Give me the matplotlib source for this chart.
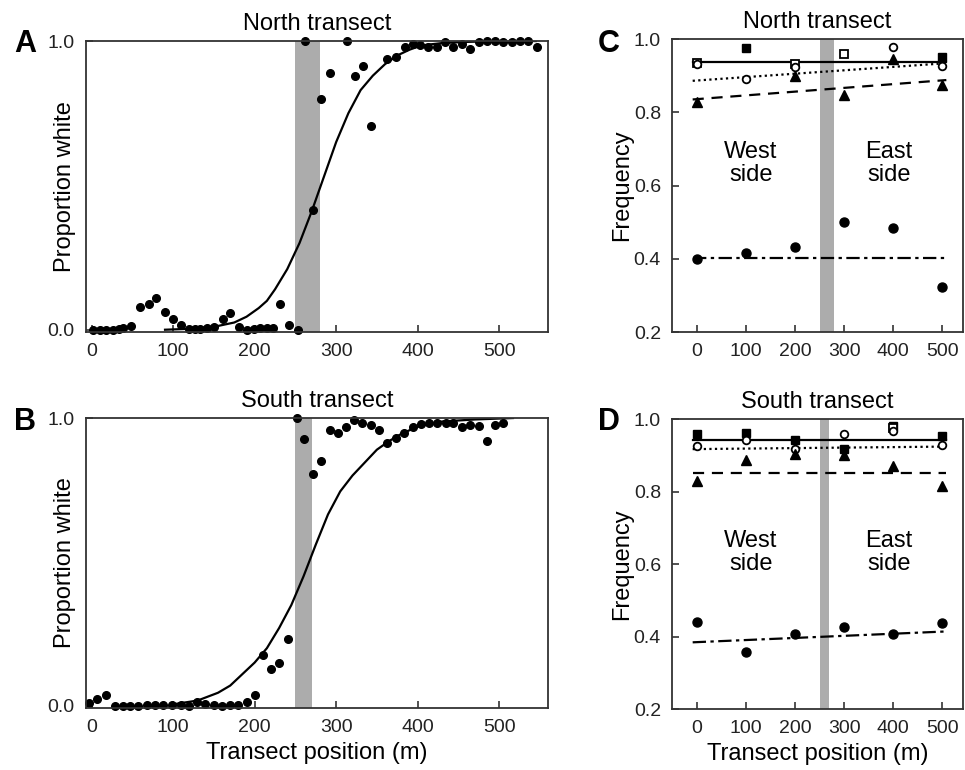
import matplotlib
matplotlib.use("Agg")
import matplotlib.pyplot as plt
import numpy as np

nan = np.nan

# panel A - north transect, proportion white morph
north_x = [2, 10, 18, 26, 33, 39, 48, 59, 70, 79, 90, 100, 109, 119, 127, 133, 141, 150,
           161, 170, 181, 190, 199, 207, 215, 222, 231, 242, 253, 262, 271, 282, 293,
           313, 323, 333, 343, 363, 373, 384, 394, 403, 413, 424, 434, 444, 454, 464,
           475, 485, 495, 505, 516, 526, 536, 546]
north_prop = [0.0, 0.0, 0.0, 0.0, 0.002, 0.006, 0.014, 0.08, 0.09, 0.11, 0.063, 0.037, 0.017,
              0.004, 0.002, 0.002, 0.005, 0.01, 0.037, 0.058, 0.01, 0.0, 0.003, 0.005, 0.005,
              0.005, 0.09, 0.017, 0.0, 1.0, 0.415, 0.80, 0.89, 1.0, 0.88, 0.915, 0.705,
              0.937, 0.946, 0.98, 0.99, 0.988, 0.98, 0.98, 0.995, 0.978, 0.99, 0.973,
              0.995, 1.0, 1.0, 0.998, 0.998, 1.0, 1.0, 0.98]
north_fit_x = [90, 120, 150, 175, 190, 205, 215, 225, 240, 255, 270, 285, 300, 315, 330,
               345, 360, 375, 390, 405, 430, 460, 500, 545]
north_fit_y = [0.0, 0.003, 0.01, 0.025, 0.045, 0.075, 0.10, 0.14, 0.21, 0.30, 0.41, 0.53,
               0.65, 0.75, 0.83, 0.88, 0.92, 0.95, 0.97, 0.985, 0.993, 0.997, 1.0, 1.0]

# panel B - south transect
south_x = [-3, 7, 18, 28, 38, 47, 57, 68, 78, 88, 98, 109, 119, 129, 139, 150, 160, 170,
           180, 190, 200, 210, 220, 230, 241, 252, 261, 271, 282, 292, 302, 312, 322, 332,
           343, 353, 363, 373, 383, 394, 404, 414, 424, 435, 444, 454, 464, 475, 485, 495, 505]
south_prop = [0.01, 0.022, 0.038, 0.0, 0.0, 0.0, 0.0, 0.004, 0.001, 0.001, 0.001, 0.001, 0.0,
              0.013, 0.007, 0.001, 0.0, 0.003, 0.004, 0.013, 0.038, 0.176, 0.126, 0.148,
              0.232, 1.0, 0.926, 0.805, 0.849, 0.96, 0.947, 0.97, 0.993, 0.984, 0.976, 0.958,
              0.912, 0.93, 0.947, 0.968, 0.979, 0.984, 0.984, 0.984, 0.981, 0.968, 0.976,
              0.972, 0.92, 0.976, 0.984]
south_fit_x = [100, 130, 155, 170, 185, 200, 215, 230, 245, 260, 275, 290, 305, 320, 335,
               350, 365, 380, 400, 430, 470, 517]
south_fit_y = [0.005, 0.018, 0.045, 0.07, 0.11, 0.15, 0.2, 0.27, 0.35, 0.45, 0.56, 0.665,
               0.745, 0.8, 0.845, 0.89, 0.92, 0.945, 0.97, 0.988, 0.995, 1.0]

# panels C, D - frequencies at sampling sites
sites = [0, 100, 200, 300, 400, 500]
line_x = [-8, 508]

north_sq_filled = [nan, 0.975, nan, nan, nan, 0.952]
north_sq_open = [0.935, nan, 0.933, 0.959, nan, nan]
north_circ_open = [0.932, 0.89, 0.925, nan, 0.977, 0.926]
north_tri = [0.829, nan, 0.90, 0.847, 0.946, 0.874]
north_circ = [0.40, 0.416, 0.433, 0.50, 0.483, 0.323]
north_solid = [0.938, 0.938]
north_dotted = [0.886, 0.934]
north_dashed = [0.835, 0.888]
north_dashdot = [0.402, 0.402]

south_sq_filled = [0.959, 0.961, 0.941, 0.917, 0.98, 0.954]
south_sq_open = [nan, nan, nan, nan, 0.975, nan]
south_circ_open = [0.926, 0.943, 0.917, 0.959, 0.966, 0.928]
south_tri = [0.828, 0.886, 0.904, 0.90, 0.871, 0.816]
south_circ = [0.439, 0.356, 0.408, 0.426, 0.408, 0.436]
south_solid = [0.941, 0.941]
south_dotted = [0.917, 0.924]
south_dashed = [0.851, 0.851]
south_dashdot = [0.384, 0.414]

plt.rcParams['font.family'] = ['Liberation Sans', 'DejaVu Sans']
plt.rcParams['font.size'] = 14
plt.rcParams['axes.linewidth'] = 1.3
plt.rcParams['axes.edgecolor'] = '#333333'

BAND = '#acacac'


def style_axes(ax):
    ax.tick_params(direction='in', length=5, width=1.2, labelsize=14, pad=8, colors='#333333',
                   labelcolor='#222222')
    for s in ax.spines.values():
        s.set_zorder(5)


def cline_panel(ax, xs, ys, fx, fy, band, title):
    ax.axvspan(band[0], band[1], color=BAND, lw=0, zorder=0)
    ax.plot(fx, fy, color='black', lw=1.6, zorder=2)
    ax.plot(xs, ys, 'o', color='black', ms=5.5, clip_on=False, zorder=3)
    ax.set_xlim(-7, 560)
    ax.set_ylim(-0.008, 1.0)
    ax.set_xticks([0, 100, 200, 300, 400, 500])
    ax.set_yticks([0.0, 1.0])
    ax.set_yticklabels(['0.0', '1.0'])
    ax.set_title(title, fontsize=17, pad=8)
    ax.set_ylabel('Proportion white', fontsize=17)
    ax.yaxis.set_label_coords(-0.022, 0.5)
    style_axes(ax)


def freq_panel(ax, band, title, sq_f, sq_o, ci_o, tri, ci, solid, dotted, dashed, dashdot):
    ax.axvspan(band[0], band[1], color=BAND, lw=0, zorder=0)
    ax.plot(line_x, solid, '-', color='black', lw=1.6, zorder=2)
    ax.plot(line_x, dotted, color='black', lw=1.6, ls=(0, (1, 1.5)), zorder=2)
    ax.plot(line_x, dashed, color='black', lw=1.6, ls=(0, (5, 3.5)), zorder=2)
    ax.plot(line_x, dashdot, color='black', lw=1.6, ls=(0, (6, 2, 1.5, 2)), zorder=2)
    ax.plot(sites, sq_f, 's', color='black', ms=5.5, zorder=3)
    ax.plot(sites, sq_o, 's', mfc='white', mec='black', mew=1.3, ms=5.5, zorder=3)
    ax.plot(sites, ci_o, 'o', mfc='white', mec='black', mew=1.3, ms=5.5, zorder=3)
    ax.plot(sites, tri, '^', color='black', ms=6.5, zorder=3)
    ax.plot(sites, ci, 'o', color='black', ms=6.5, zorder=3)
    ax.set_xlim(-50, 542)
    ax.set_ylim(0.2, 1.0)
    ax.set_xticks(sites)
    ax.set_yticks([0.2, 0.4, 0.6, 0.8, 1.0])
    ax.set_yticklabels(['0.2', '0.4', '0.6', '0.8', '1.0'])
    ax.set_title(title, fontsize=17, pad=8)
    ax.set_ylabel('Frequency', fontsize=17)
    ax.yaxis.set_label_coords(-0.135, 0.5)
    style_axes(ax)


fig = plt.figure(figsize=(9.65, 7.7), dpi=100)
axA = fig.add_axes([0.0891, 0.5688, 0.4788, 0.3779])
axB = fig.add_axes([0.0891, 0.0805, 0.4788, 0.3766])
axC = fig.add_axes([0.6964, 0.5688, 0.3016, 0.3805])
axD = fig.add_axes([0.6964, 0.0792, 0.3016, 0.3766])

cline_panel(axA, north_x, north_prop, north_fit_x, north_fit_y, (250, 280), 'North transect')
cline_panel(axB, south_x, south_prop, south_fit_x, south_fit_y, (250, 270), 'South transect')
axB.set_xlabel('Transect position (m)', fontsize=17, labelpad=4)

freq_panel(axC, (250, 280), 'North transect', north_sq_filled, north_sq_open, north_circ_open,
           north_tri, north_circ, north_solid, north_dotted, north_dashed, north_dashdot)
freq_panel(axD, (250, 270), 'South transect', south_sq_filled, south_sq_open, south_circ_open,
           south_tri, south_circ, south_solid, south_dotted, south_dashed, south_dashdot)
axD.set_xlabel('Transect position (m)', fontsize=17, labelpad=4)

for ax, yv in ((axC, 0.66), (axD, 0.632)):
    ax.text(110, yv, 'West\nside', ha='center', va='center', fontsize=17, linespacing=1.1)
    ax.text(391, yv, 'East\nside', ha='center', va='center', fontsize=17, linespacing=1.1)

for lbl, x, y in (('A', 25, 44), ('B', 25, 422), ('C', 609, 44), ('D', 609, 422)):
    fig.text(x / 965, 1 - y / 770, lbl, fontsize=22, fontweight='bold', ha='center', va='center')

plt.savefig('out.png', dpi=100)
